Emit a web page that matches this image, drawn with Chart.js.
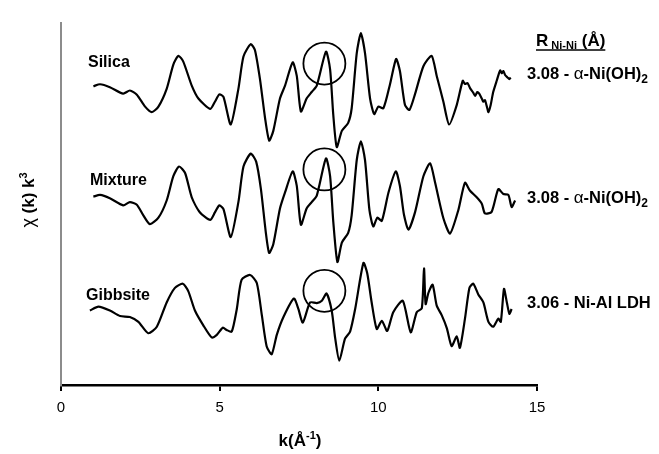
<!DOCTYPE html>
<html><head><meta charset="utf-8">
<script src="https://cdn.jsdelivr.net/npm/chart.js@4"></script>
<style>html,body{margin:0;padding:0;background:#fff}#wrap{width:659px;height:454px;position:relative}</style>
</head><body><div id="wrap"><canvas id="c" width="659" height="454"></canvas></div>
<script>
// ---- data (k in 1/Å, chi(k)k^3 in arbitrary units) ----
const seriesNames = ['Silica', 'Mixture', 'Gibbsite'];
const rNiNi = ['3.08 - α-Ni(OH)2', '3.08 - α-Ni(OH)2', '3.06 - Ni-Al LDH'];
const offsets = [30, 18.5, 6.5];
const xTicks = [0, 5, 10, 15];

const silicaK = [1.02,1.23,1.54,1.96,2.17,2.39,2.65,2.86,3.07,3.33,3.54,3.70,3.85,4.12,4.33,4.70,4.85,4.99,5.12,5.35,5.59,5.75,5.98,6.11,6.27,6.43,6.56,6.69,6.90,7.06,7.30,7.43,7.56,7.74,7.90,8.06,8.35,8.48,8.58,8.69,8.85,9.05,9.16,9.32,9.45,9.58,9.74,9.87,10.00,10.16,10.37,10.56,10.68,10.84,10.98,11.16,11.42,11.68,11.84,12.05,12.23,12.47,12.66,12.73,12.81,12.89,12.99,13.05,13.12,13.18,13.26,13.31,13.36,13.42,13.47,13.54,13.62,13.73,13.84,13.89,13.94,14.00,14.07,14.13,14.17];
const silicaChi = [0.77,0.97,0.67,0.00,0.33,-0.10,-1.33,-1.90,-1.33,0.50,3.00,3.90,3.33,0.83,-0.50,-1.57,-0.83,-0.07,-0.33,-3.17,0.50,3.83,5.10,4.50,1.50,-2.50,-4.83,-3.83,-0.50,0.83,3.23,1.83,-1.83,-0.50,0.17,0.83,4.33,2.50,-2.17,-5.50,-3.83,-3.00,-1.50,4.17,6.23,4.17,-0.50,-2.10,-1.33,-1.50,1.00,3.57,2.33,-1.17,-1.67,0.00,2.83,3.90,1.83,-0.83,-3.17,-1.17,1.33,1.00,1.10,0.57,0.10,-0.23,0.17,0.00,-0.50,-0.83,-0.67,-1.33,-1.90,-1.17,0.17,1.33,2.40,2.10,2.33,1.90,1.67,1.50,1.67];

const mixtureK = [1.02,1.23,1.54,1.96,2.17,2.39,2.59,2.80,3.07,3.33,3.54,3.72,3.91,4.12,4.38,4.70,4.85,4.99,5.12,5.35,5.59,5.75,5.98,6.15,6.30,6.45,6.56,6.69,6.90,7.06,7.30,7.43,7.56,7.74,7.90,8.06,8.35,8.48,8.58,8.71,8.85,9.05,9.16,9.32,9.45,9.58,9.72,9.84,9.97,10.11,10.32,10.55,10.68,10.81,10.95,11.16,11.42,11.63,11.79,12.05,12.26,12.52,12.73,12.89,13.10,13.26,13.36,13.57,13.78,13.94,14.10,14.20,14.31];
const mixtureChi = [0.90,1.07,0.73,0.00,0.33,0.07,-1.00,-1.93,-1.27,0.50,3.00,4.00,3.33,0.83,-0.73,-1.50,-0.73,0.00,-0.40,-3.27,0.33,4.00,5.33,4.50,1.67,-2.67,-4.90,-4.00,-0.33,1.33,3.50,2.00,-2.00,-0.33,0.33,1.00,4.83,3.00,-1.67,-5.83,-3.83,-2.83,-1.00,4.67,6.60,4.67,-0.50,-2.17,-1.27,-1.60,1.33,3.50,2.00,-1.00,-2.50,-0.67,3.00,4.33,2.33,-1.33,-2.90,-0.50,2.33,1.50,0.83,0.17,-0.83,-0.67,1.67,1.17,1.07,-0.17,0.50];

const gibbsiteK = [0.91,1.18,1.54,1.86,2.17,2.44,2.75,3.02,3.33,3.59,3.84,4.01,4.22,4.48,4.75,4.91,5.10,5.22,5.38,5.54,5.69,5.96,6.17,6.33,6.48,6.64,6.80,7.01,7.34,7.48,7.62,7.85,8.06,8.22,8.37,8.53,8.64,8.77,8.95,9.11,9.27,9.53,9.65,9.79,9.95,10.11,10.28,10.47,10.77,11.02,11.21,11.37,11.44,11.49,11.58,11.71,11.84,12.00,12.16,12.31,12.47,12.57,12.73,12.87,12.99,13.15,13.31,13.47,13.62,13.78,13.86,13.96,14.05,14.13,14.20];
const gibbsiteChi = [1.17,1.57,1.17,0.60,0.50,0.00,-1.17,-0.50,2.00,3.50,3.93,3.17,1.17,-0.33,-1.60,-1.33,-0.60,-0.83,-1.00,1.33,4.33,4.83,4.00,0.67,-2.50,-3.33,-1.33,0.50,2.40,1.33,-0.07,2.00,1.93,2.17,2.93,1.17,-1.67,-4.00,-1.73,-1.00,1.33,6.07,5.00,2.00,-0.73,0.10,-0.93,1.00,2.17,-1.07,1.00,1.40,5.50,1.83,3.00,3.83,1.67,0.67,-0.67,-2.50,-1.50,-2.67,0.33,3.50,3.93,2.83,2.00,0.00,-0.50,0.33,0.00,3.40,2.00,0.83,1.33];

// circled feature near k = 8.3 on each spectrum
const circleK = [8.3, 8.3, 8.3];
const circleChi = [3.1, 3.7, 3.2];

const allK = [silicaK, mixtureK, gibbsiteK];
const allChi = [silicaChi, mixtureChi, gibbsiteChi];

const FONT = '"Liberation Sans", Arial, Helvetica, sans-serif';

const datasets = allK.map((ks, s) => ({
  type: 'line',
  label: seriesNames[s],
  data: ks.map((k, i) => ({x: k, y: allChi[s][i] + offsets[s]})),
  borderColor: '#000',
  borderWidth: 2.2,
  pointRadius: 0,
  tension: 0.22,
  fill: false
}));
datasets.push({
  type: 'scatter',
  label: 'circles',
  data: circleK.map((k, i) => ({x: k, y: circleChi[i] + offsets[i]})),
  pointRadius: 21,
  pointHoverRadius: 21,
  pointStyle: 'circle',
  backgroundColor: 'rgba(0,0,0,0)',
  borderColor: '#000',
  borderWidth: 1.8
});

function richWidth(ctx, parts) {
  let w = 0;
  for (const p of parts) { ctx.font = `${p[2]} ${p[1]}px ${FONT}`; w += ctx.measureText(p[0]).width; }
  return w;
}
function rich(ctx, x, y, parts) {
  let cx = x;
  ctx.textBaseline = 'alphabetic';
  ctx.textAlign = 'left';
  for (const p of parts) {
    ctx.font = `${p[2]} ${p[1]}px ${FONT}`;
    ctx.fillText(p[0], cx, y + (p[3] || 0));
    cx += ctx.measureText(p[0]).width;
  }
  return cx - x;
}
function labelParts(str) {
  const parts = [];
  const m = str.match(/^(.*?)(α)(.*)$/);
  if (m) {
    parts.push([m[1], 16.5, 'bold', 0]);
    parts.push([m[2], 17, 'normal', 0]);
    const rest = m[3];
    const m2 = rest.match(/^(.*\))(\d)$/);
    if (m2) { parts.push([m2[1], 16.5, 'bold', 0]); parts.push([m2[2], 12, 'bold', 4]); }
    else parts.push([rest, 16.5, 'bold', 0]);
  } else parts.push([str, 16.5, 'bold', 0]);
  return parts;
}

const textPlugin = {
  id: 'texts',
  afterDraw(chart) {
    const ctx = chart.ctx;
    ctx.save();
    ctx.fillStyle = '#000';
    const nameY = [67, 185, 300];
    const nameX = [88, 90, 86];
    seriesNames.forEach((n, i) => rich(ctx, nameX[i], nameY[i], [[n, 16, 'bold', 0]]));
    const hx = 536, hy = 46;
    const hParts = [['R', 17, 'bold', 0], [' Ni-Ni', 11, 'bold', 3], [' (Å)', 17, 'bold', 0]];
    const hw = rich(ctx, hx, hy, hParts);
    ctx.strokeStyle = '#000'; ctx.lineWidth = 1.5;
    ctx.beginPath(); ctx.moveTo(hx, hy + 4); ctx.lineTo(hx + hw, hy + 4); ctx.stroke();
    const rY = [79, 203, 308];
    rNiNi.forEach((t, i) => rich(ctx, 527, rY[i], labelParts(t)));
    const xt = [['k(Å', 17, 'bold', 0], ['-1', 11, 'bold', -7], [')', 17, 'bold', 0]];
    const xw = richWidth(ctx, xt);
    rich(ctx, 300 - xw / 2, 446, xt);
    ctx.translate(34, 200);
    ctx.rotate(-Math.PI / 2);
    const yt = [['χ', 18, 'normal', 0], [' (k) k', 17, 'bold', 0], ['3', 11, 'bold', -7]];
    const yw = richWidth(ctx, yt);
    rich(ctx, -yw / 2, 0, yt);
    ctx.restore();
  }
};

new Chart(document.getElementById('c'), {
  data: {datasets},
  options: {
    responsive: false,
    animation: false,
    events: [],
    layout: {padding: {top: 12, right: 122, left: 0, bottom: 0}},
    plugins: {legend: {display: false}, tooltip: {enabled: false}, title: {display: false}},
    scales: {
      x: {
        type: 'linear', min: 0, max: 15,
        afterBuildTicks: s => { s.ticks = xTicks.map(v => ({value: v})); },
        ticks: {color: '#000', font: {size: 15, family: FONT}, padding: 8, maxRotation: 0, autoSkip: false},
        grid: {display: true, drawOnChartArea: false, drawTicks: true, tickLength: 6, color: '#000', lineWidth: 2},
        border: {display: true, color: '#000', width: 2.5},
        afterFit: s => { s.height = 69; }
      },
      y: {
        type: 'linear', min: 0, max: 37.3,
        ticks: {display: false},
        grid: {display: false},
        border: {display: true, color: '#8c8c8c', width: 2},
        afterFit: s => { s.width = 61; }
      }
    }
  },
  plugins: [textPlugin]
});
</script>
</body></html>
